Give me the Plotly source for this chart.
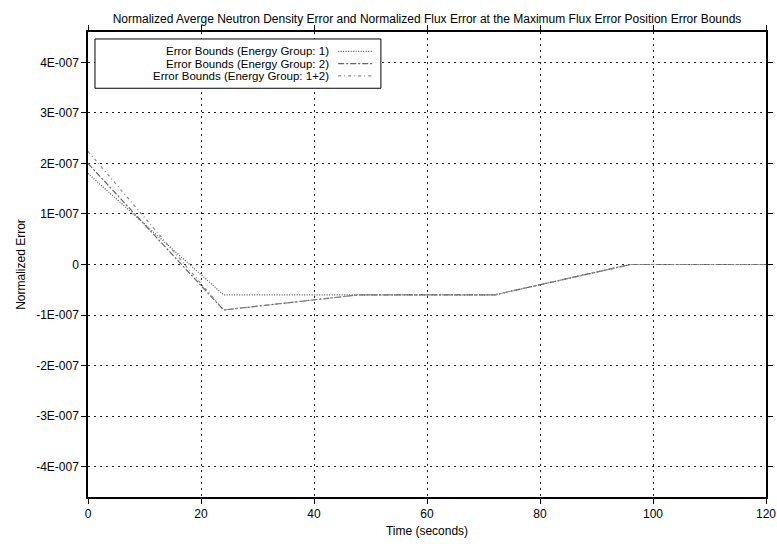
import plotly.graph_objects as go

time_s = [0, 24, 48, 72, 96, 120]
group1 = [1.8e-7, -6e-8, -6e-8, -6e-8, 0, 0]
group2 = [2.0e-7, -9e-8, -6e-8, -6e-8, 0, 0]
group12 = [2.24e-7, -9e-8, -6e-8, -6e-8, 0, 0]

series_names = ["Error Bounds (Energy Group: 1)",
                "Error Bounds (Energy Group: 2)",
                "Error Bounds (Energy Group: 1+2)"]

y_tickvals = [-4e-7, -3e-7, -2e-7, -1e-7, 0, 1e-7, 2e-7, 3e-7, 4e-7]
y_ticktext = ["-4E-007", "-3E-007", "-2E-007", "-1E-007", "0",
              "1E-007", "2E-007", "3E-007", "4E-007"]
x_tickvals = [0, 20, 40, 60, 80, 100, 120]

styles = [
    dict(color="#555555", dash="1px,1.5px", width=1.2),
    dict(color="#666666", dash="6px,2px,2px,2px", width=1.2),
    dict(color="#8a8a8a", dash="3px,3px,1px,3px", width=1.2),
]

fig = go.Figure()
for name, ys, st in zip(series_names, [group1, group2, group12], styles):
    fig.add_trace(go.Scatter(x=time_s, y=ys, mode="lines", name=name,
                             line=st, showlegend=False))

font = dict(family="Liberation Sans, Arial, sans-serif", size=12, color="black")
legend_font = dict(family="Liberation Sans, Arial, sans-serif", size=11.5, color="black")

# custom legend (text right-aligned, sample line on the right) like the reference
leg_x0, leg_x1 = 0.0103, 0.432
leg_y0, leg_y1 = 0.879, 0.985
fig.add_shape(type="rect", xref="paper", yref="paper",
              x0=leg_x0, x1=leg_x1, y0=leg_y0, y1=leg_y1,
              line=dict(color="black", width=1), fillcolor="white", layer="above")
row_y = [0.9585, 0.932, 0.9055]
for name, st, yy in zip(series_names, styles, row_y):
    fig.add_annotation(xref="paper", yref="paper", x=0.357, y=yy, text=name,
                       showarrow=False, xanchor="right", yanchor="middle",
                       font=legend_font, borderpad=0)
    fig.add_shape(type="line", xref="paper", yref="paper",
                  x0=0.369, x1=0.420, y0=yy, y1=yy,
                  line=st, layer="above")

axis_common = dict(showline=True, linecolor="black", linewidth=1.5, mirror="allticks",
                   ticks="outside", ticklen=5, tickcolor="black", tickwidth=1,
                   showgrid=True, gridcolor="#222222", gridwidth=1, griddash="2px,4px",
                   zeroline=False, tickfont=font, automargin=False)

fig.update_layout(
    width=777, height=544,
    margin=dict(l=88, r=11, t=32, b=47),
    paper_bgcolor="white", plot_bgcolor="white",
    font=font,
    title=dict(text="Normalized Averge Neutron Density Error and Normalized Flux Error at the Maximum Flux Error Position Error Bounds",
               x=0.5, xref="paper", xanchor="center",
               y=1 - 19 / 544, yref="container", yanchor="middle",
               font=font),
    xaxis=dict(range=[0, 120], tickvals=x_tickvals,
               title=dict(text="Time (seconds)", standoff=6, font=font), **axis_common),
    yaxis=dict(range=[-4.6e-7, 4.6e-7], tickvals=y_tickvals, ticktext=y_ticktext,
               title=dict(text="Normalized Error", standoff=8, font=font), **axis_common),
)

fig.write_html("out.html", config={"displayModeBar": False},
               post_script="document.body.style.margin='0';document.body.style.overflow='hidden';")
